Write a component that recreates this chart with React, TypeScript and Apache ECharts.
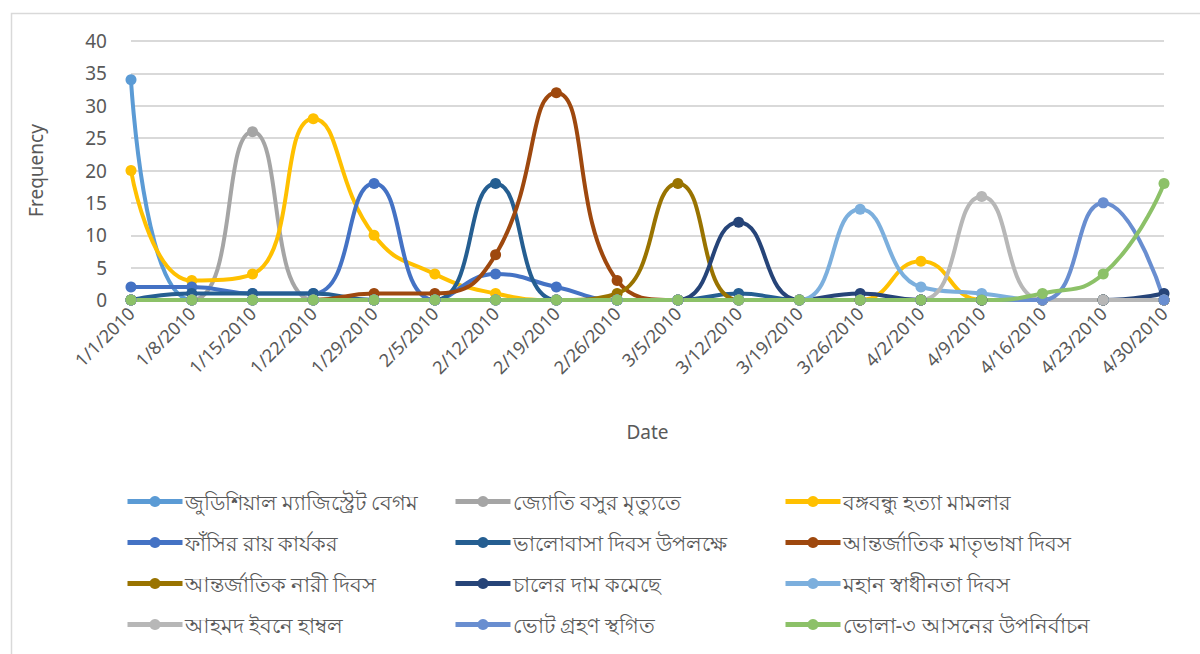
import React, { useEffect, useRef } from "react";
import * as echarts from "echarts";

const dates = ["1/1/2010","1/8/2010","1/15/2010","1/22/2010","1/29/2010","2/5/2010","2/12/2010","2/19/2010","2/26/2010","3/5/2010","3/12/2010","3/19/2010","3/26/2010","4/2/2010","4/9/2010","4/16/2010","4/23/2010","4/30/2010"];

const seriesNames = [
  "জুডিশিয়াল ম্যাজিস্ট্রেট বেগম",
  "জ্যোতি বসুর মৃত্যুতে",
  "বঙ্গবন্ধু হত্যা মামলার",
  "ফাঁসির রায় কার্যকর",
  "ভালোবাসা দিবস উপলক্ষে",
  "আন্তর্জাতিক মাতৃভাষা দিবস",
  "আন্তর্জাতিক নারী দিবস",
  "চালের দাম কমেছে",
  "মহান স্বাধীনতা দিবস",
  "আহমদ ইবনে হাম্বল",
  "ভোট গ্রহণ স্থগিত",
  "ভোলা-৩ আসনের উপনির্বাচন",
];

const judicial = [34,0,0,0,0,0,0,0,0,0,0,0,0,0,0,0,0,0];
const jyoti = [0,0,26,0,0,0,0,0,0,0,0,0,0,0,0,0,0,0];
const bangabandhu = [20,3,4,28,10,4,1,0,0,0,0,0,0,6,0,0,0,0];
const fashi = [2,2,1,1,18,0,4,2,0,0,0,0,0,0,0,0,0,0];
const valobasha = [0,1,1,1,0,0,18,0,0,0,1,0,0,0,0,0,0,0];
const matribhasha = [0,0,0,0,1,1,7,32,3,0,0,0,0,0,0,0,0,0];
const nari = [0,0,0,0,0,0,0,0,1,18,0,0,0,0,0,0,0,0];
const chal = [0,0,0,0,0,0,0,0,0,0,12,0,1,0,0,0,0,1];
const swadhinota = [0,0,0,0,0,0,0,0,0,0,0,0,14,2,1,0,0,0];
const hambal = [0,0,0,0,0,0,0,0,0,0,0,0,0,0,16,0,0,0];
const vote = [0,0,0,0,0,0,0,0,0,0,0,0,0,0,0,0,15,0];
const bhola = [0,0,0,0,0,0,0,0,0,0,0,0,0,0,0,1,4,18];

const seriesData = [judicial, jyoti, bangabandhu, fashi, valobasha, matribhasha, nari, chal, swadhinota, hambal, vote, bhola];
const colors = ["#5B9BD5","#A5A5A5","#FFC000","#4472C4","#255E91","#9E480E","#997300","#264478","#7CAFDD","#B7B7B7","#698ED0","#8CC168"];

const yTicks = [0, 5, 10, 15, 20, 25, 30, 35, 40];

const FONT = "'Noto Sans', 'Open Sans', sans-serif";

export default function App() {
  const ref = useRef<HTMLDivElement>(null);
  useEffect(() => {
    document.body.style.margin = "0";
    const chart = echarts.init(ref.current!, null, { renderer: "svg" });
    const legendCols = [0, 1, 2].map((c) => seriesNames.filter((_, i) => i % 3 === c));
    const legendLefts = [120, 448, 778];
    chart.setOption({
      animation: false,
      backgroundColor: "#ffffff",
      textStyle: { fontFamily: FONT },
      graphic: [
        {
          type: "rect",
          shape: { x: 11.5, y: 13.5, width: 1300, height: 800 },
          style: { fill: "none", stroke: "#d9d9d9", lineWidth: 1.5 },
          silent: true,
          z: -10,
        },
      ],
      grid: { left: 131, right: 36, top: 41, height: 259, containLabel: false },
      xAxis: {
        type: "category",
        data: dates,
        boundaryGap: false,
        name: "Date",
        nameLocation: "middle",
        nameGap: 122,
        nameTextStyle: { color: "#595959", fontSize: 19, fontFamily: FONT },
        axisLine: { show: false },
        axisTick: { show: false },
        axisLabel: { rotate: 45, color: "#595959", fontSize: 18, margin: 10, fontFamily: FONT, interval: 0 },
        splitLine: { show: false },
      },
      yAxis: {
        type: "value",
        min: 0,
        max: 40,
        interval: 5,
        name: "Frequency",
        nameLocation: "middle",
        nameGap: 86,
        nameRotate: 90,
        nameTextStyle: { color: "#595959", fontSize: 19, fontFamily: FONT },
        axisLine: { show: false },
        axisTick: { show: false },
        axisLabel: { color: "#595959", fontSize: 19, margin: 24, fontFamily: FONT, formatter: (v: number) => (yTicks.includes(v) ? String(v) : "") },
        splitLine: { lineStyle: { color: "#d9d9d9", width: 2 } },
      },
      legend: legendCols.map((names, c) => ({
        orient: "vertical",
        left: legendLefts[c],
        top: 486,
        itemWidth: 55,
        itemHeight: 14,
        itemGap: 20,
        data: names,
        lineStyle: { width: 5 },
        textStyle: { color: "#595959", fontSize: 21, fontFamily: FONT, padding: [0, 0, 0, -3] },
      })),
      series: seriesData.map((d, i) => ({
        name: seriesNames[i],
        type: "line",
        data: d,
        smooth: 0.5,
        symbol: "circle",
        symbolSize: 11,
        color: colors[i],
        lineStyle: { width: 4, color: colors[i] },
        itemStyle: { color: colors[i] },
      })),
    });
    return () => chart.dispose();
  }, []);
  return <div ref={ref} style={{ position: "fixed", left: 0, top: 0, width: 1200, height: 654 }} />;
}
